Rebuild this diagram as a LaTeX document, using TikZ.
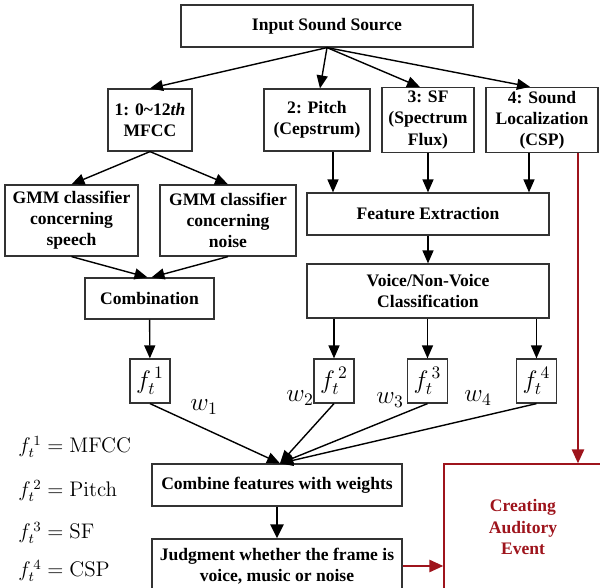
\documentclass[tikz,border=0pt]{standalone}
\usepackage[no-math]{fontspec}
\setmainfont{Liberation Serif}
\usepackage{tikz}
\usetikzlibrary{positioning, arrows.meta, calc}
\definecolor{evt}{RGB}{158,20,28}
\tikzset{
  arr/.style={-{Triangle[length=2.6mm,width=2.2mm]}, line width=0.8pt, draw=black},
  warr/.style={-{Triangle[length=2.8mm,width=2.6mm]}, line width=1.6pt, draw=black},
  rarr/.style={-{Triangle[length=2.8mm,width=2.4mm]}, line width=1.4pt, draw=evt},
  blk/.style={draw=black!80, line width=0.7pt, align=center, inner sep=2pt, font=\bfseries},
  fbox/.style={draw=black!80, line width=0.7pt, inner sep=1pt, font=\Large,
               minimum width=0.8cm, minimum height=0.88cm},
  wlab/.style={font=\Large, inner sep=0pt},
  leg/.style={anchor=west, inner sep=0pt, font=\large}
}

\begin{document}
\begin{tikzpicture}[x=0.02cm, y=-0.02cm]
  \clip (0,0) rectangle (600,588);
  % input and the four feature branches
  \node[blk, minimum width=5.84cm, minimum height=0.84cm] (src) at (327,26) {Input Sound Source};
  \node[blk, minimum width=1.68cm, minimum height=1.24cm] (mfcc) at (150,120) {1: 0\textasciitilde12\textit{th}\\MFCC};
  \node[blk, minimum width=2.12cm, minimum height=1.24cm] (pitch) at (317,120) {2: Pitch\\(Cepstrum)};
  \node[blk, minimum width=1.84cm, minimum height=1.24cm] (sf) at (428,120) {3: SF\\(Spectrum\\Flux)};
  \node[blk, minimum width=2.24cm, minimum height=1.24cm] (loc) at (542,120) {4: Sound\\Localization\\(CSP)};

  \node[blk, minimum width=2.66cm, minimum height=1.42cm] (gmms) at (71.5,220.5) {GMM classifier\\concerning\\speech};
  \node[blk, minimum width=2.72cm, minimum height=1.42cm] (gmmn) at (228,220.5) {GMM classifier\\concerning\\noise};
  \node[blk, minimum width=2.58cm, minimum height=0.82cm] (comb) at (149.5,298.5) {Combination};
  \node[blk, minimum width=4.84cm, minimum height=0.84cm] (fext) at (428,214) {Feature Extraction};
  \node[blk, minimum width=4.84cm, minimum height=1.08cm] (vnv) at (428,291) {Voice/Non-Voice\\Classification};

  % feature values
  \node[fbox] (f1) at (150,381) {$f_t^{\,1}$};
  \node[fbox] (f2) at (334,381) {$f_t^{\,2}$};
  \node[fbox] (f3) at (427.5,381) {$f_t^{\,3}$};
  \node[fbox] (f4) at (536.5,381) {$f_t^{\,4}$};

  \node[blk, minimum width=5cm, minimum height=0.84cm] (cmbw) at (277,485) {Combine features with weights};
  \node[blk, minimum width=5cm, minimum height=1.08cm] (judg) at (277,566) {Judgment whether the frame is\\voice, music or noise};
  \node[blk, draw=evt, text=evt, minimum width=3.16cm, minimum height=2.52cm] (evt) at (523,527) {Creating\\Auditory\\Event};

  \draw[arr] (src.south) -- (mfcc.north);
  \draw[arr] (src.south) -- ([xshift=0.06cm]pitch.north);
  \draw[arr] (src.south) -- ([xshift=-0.16cm]sf.north);
  \draw[arr] (src.south) -- ([xshift=-0.24cm]loc.north);

  \draw[arr] (mfcc.south) -- (gmms.north);
  \draw[arr] (mfcc.south) -- (gmmn.north);
  \draw[arr] (gmms.south) -- ([xshift=-0.04cm]comb.north);
  \draw[arr] (gmmn.south) -- ([xshift=0.04cm]comb.north);
  \draw[arr] (comb) -- (f1);

  \draw[arr] ([xshift=0.32cm]pitch.south) -- ([xshift=0.32cm]pitch.south |- fext.north);
  \draw[arr] (sf.south) -- (sf.south |- fext.north);
  \draw[arr] ([xshift=-0.26cm]loc.south) -- ([xshift=-0.26cm]loc.south |- fext.north);
  \draw[arr] (fext) -- (vnv);
  \draw[arr] (f2.north |- vnv.south) -- (f2.north);
  \draw[arr] (f3.north |- vnv.south) -- (f3.north);
  \draw[arr] (f4.north |- vnv.south) -- (f4.north);

  % weighted sum
  \foreach \f in {f1,f2,f3,f4}
    \draw[arr] (\f.south) -- ([xshift=0.06cm]cmbw.north);
  \node[wlab] (w1) at (204,407) {$w_1$};
  \node[wlab] (w2) at (300,398) {$w_2$};
  \node[wlab] (w3) at (390,400) {$w_3$};
  \node[wlab] (w4) at (478,398) {$w_4$};
  \draw[warr] (cmbw) -- (judg);

  \draw[rarr] ([xshift=0.72cm]loc.south) -- ([xshift=0.72cm]loc.south |- evt.north);
  \draw[rarr] (judg.east) -- (judg.east -| evt.west);

  % legend
  \node[leg] (l1) at (18,447) {$f_t^{\,1}=\mathrm{MFCC}$};
  \node[leg] (l2) at (18,491) {$f_t^{\,2}=\mathrm{Pitch}$};
  \node[leg] (l3) at (18,533) {$f_t^{\,3}=\mathrm{SF}$};
  \node[leg] (l4) at (18,571) {$f_t^{\,4}=\mathrm{CSP}$};
\end{tikzpicture}
\end{document}
